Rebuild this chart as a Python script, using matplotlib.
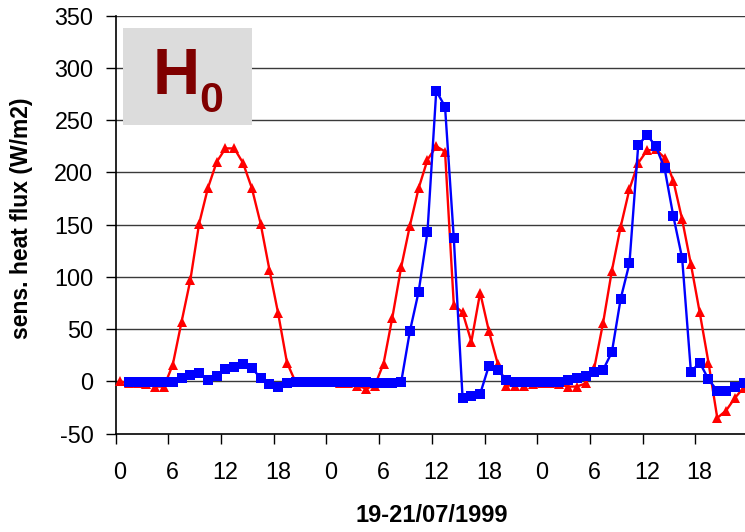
import numpy as np
import matplotlib
matplotlib.use("Agg")
import matplotlib.pyplot as plt
from matplotlib.patches import Rectangle
from matplotlib.ticker import FixedLocator

plt.rcParams['font.family'] = ['Liberation Sans', 'DejaVu Sans']

# hourly sensible heat flux, 19-21 July 1999 (72 hours)
hours = np.arange(72)

flux_red = [0, -2, -2, -3, -5, -5, 16, 57, 97, 151, 185, 210, 223, 223, 209, 185,
            151, 107, 65, 18, -1, -1, -1, -1, -1, -2, -2, -4, -7, -4, 17, 61,
            109, 149, 185, 212, 225, 220, 73, 66, 38, 85, 48, 17, -4, -4, -4, -3,
            -2, -2, -3, -5, -5, -2, 13, 56, 106, 148, 184, 209, 221, 222, 214, 192,
            155, 112, 66, 18, -35, -28, -16, -6]

flux_blue = [np.nan, -1, -1, -1, -1, -1, -1, 3, 6, 8, 1, 5, 12, 14, 17, 13,
             3, -3, -5, -2, -1, -1, -1, -1, -1, -1, -1, -1, -1, -2, -2, -2,
             -1, 48, 86, 143, 278, 263, 137, -16, -14, -12, 15, 11, 1, -1, -1, -1,
             -1, -1, -1, 1, 3, 5, 9, 11, 28, 79, 113, 226, 236, 225, 204, 158,
             118, 9, 18, 2, -9, -9, -5, -2]

hour_labels = ['0', '6', '12', '18'] * 3
y_ticks = list(range(-50, 351, 50))

fig = plt.figure(figsize=(7.45, 5.32), dpi=100)
W, H = 745, 532
left, right, top, bottom = 115.7, 748.0, 15.7, 433.6
ax = fig.add_axes([left / W, 1 - bottom / H, (right - left) / W, (bottom - top) / H])

ax.plot(hours, flux_red, color='#FF0000', lw=1.7, marker='^', ms=7.2,
        markeredgewidth=0, zorder=3, clip_on=False)
ax.plot(hours, flux_blue, color='#0000FF', lw=1.7, marker='s', ms=6.8,
        markeredgewidth=0, zorder=4, clip_on=False)

ax.set_xlim(-0.5, 71.5)
ax.set_ylim(-50, 350)

# y axis
ax.set_yticks(y_ticks)
ax.set_yticklabels([str(v) for v in y_ticks])
ax.tick_params(axis='y', direction='out', length=7, width=1, labelsize=16.8, pad=9)
for v in y_ticks[1:]:
    ax.axhline(v, color='#3a3a3a', lw=1.0, zorder=1)

# x axis: ticks on hour boundaries, labels on the hours
ax.xaxis.set_major_locator(FixedLocator(np.arange(-0.5, 72, 6)))
ax.xaxis.set_minor_locator(FixedLocator(np.arange(0, 72, 6)))
ax.set_xticklabels([], minor=False)
ax.set_xticklabels(hour_labels, minor=True)
ax.tick_params(axis='x', which='major', direction='out', length=7, width=1)
ax.tick_params(axis='x', which='minor', length=0, labelsize=16.8, pad=20)

for s in ['top', 'right']:
    ax.spines[s].set_visible(False)
ax.spines['left'].set_linewidth(1.2)
ax.spines['bottom'].set_linewidth(1.2)

fig.text(432 / W, 1 - 516 / H, '19-21/07/1999', ha='center', va='center',
         fontsize=17, fontweight='bold')
fig.text(22 / W, 1 - 218 / H, 'sens. heat flux (W/m2)', ha='center', va='center',
         rotation=90, fontsize=16.5, fontweight='bold')

# title box
fig.patches.append(Rectangle((122.7 / W, 1 - 125 / H), 129.3 / W, 96.7 / H,
                             transform=fig.transFigure, facecolor='#DCDCDC',
                             edgecolor='none', zorder=5))
fig.text(176 / W, 1 - 77 / H, 'H', ha='center', va='center', fontsize=47,
         fontweight='bold', color='#7F0000', zorder=6)
fig.text(211 / W, 1 - 101 / H, '0', ha='center', va='center', fontsize=31,
         fontweight='bold', color='#7F0000', zorder=6)

fig.savefig('out.png', dpi=100)
